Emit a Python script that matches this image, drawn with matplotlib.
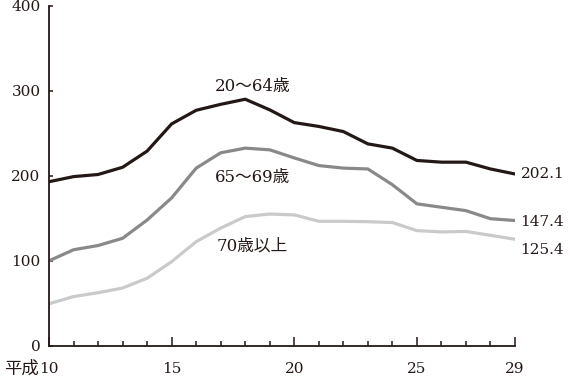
import matplotlib
matplotlib.use("Agg")
import matplotlib.pyplot as plt
from matplotlib.ticker import MultipleLocator

plt.rcParams['font.family'] = ['DejaVu Serif', 'Noto Sans CJK JP']

# 平成10年〜29年
years = list(range(10, 30))
age_20_64 = [193, 199, 201.5, 210, 229, 261, 277, 284, 290, 277.5, 262.5, 258, 252, 237.5, 232.5, 218, 216, 216, 208, 202.1]
age_65_69 = [100, 113, 118, 126.5, 148, 174, 209, 227, 232.5, 230.5, 221, 212, 209, 208, 189.5, 167, 163, 159, 149.5, 147.4]
age_70_up = [49.5, 58, 62.5, 68, 79.5, 99, 122.5, 138.5, 152, 155, 154, 146.5, 146.5, 146, 145, 135.5, 134, 134.5, 130, 125.4]

series_names = ['20～64歳', '65～69歳', '70歳以上']
end_labels = ['202.1', '147.4', '125.4']
xtick_vals = [10, 15, 20, 25, 29]

colors = ['#231815', '#898989', '#c9caca']
ink = '#231815'

fig = plt.figure(figsize=(5.7, 3.78), dpi=100)
ax = fig.add_axes([0.086, 0.085, 0.8175, 0.9])

for vals, c in zip([age_20_64, age_65_69, age_70_up], colors):
    ax.plot(years, vals, color=c, lw=2.3, solid_joinstyle='round')

ax.set_xlim(10, 29)
ax.set_ylim(0, 400)

for s in ['top', 'right']:
    ax.spines[s].set_visible(False)
for s in ['left', 'bottom']:
    ax.spines[s].set_linewidth(1.3)
    ax.spines[s].set_color(ink)

ax.set_xticks(xtick_vals)
ax.set_xticklabels([str(v) for v in xtick_vals])
ax.xaxis.set_minor_locator(MultipleLocator(1))
ax.set_yticks([0, 100, 200, 300, 400])
ax.tick_params(axis='x', which='major', direction='in', length=6.5, width=1.1,
               pad=11.5, labelsize=11, color=ink, labelcolor=ink)
ax.tick_params(axis='x', which='minor', direction='in', length=3.6, width=1.1,
               color=ink)
ax.tick_params(axis='y', direction='in', length=3, width=1.1, pad=6,
               labelsize=11, color=ink, labelcolor=ink)

# 平成 in front of the first tick label
ax.annotate('平成', xy=(10, 0), xycoords='data', xytext=(-7.5, -17),
            textcoords='offset points', ha='right', va='center', fontsize=12.5,
            color=ink)

# series labels
ax.text(18.3, 305, series_names[0], fontsize=12, ha='center', va='center', color=ink)
ax.text(18.3, 198, series_names[1], fontsize=12, ha='center', va='center', color=ink)
ax.text(18.3, 118, series_names[2], fontsize=12, ha='center', va='center', color=ink)

# end values
for vals, lab, dy in zip([age_20_64, age_65_69, age_70_up], end_labels, [0, -1, -8]):
    ax.annotate(lab, xy=(29, vals[-1]), xytext=(4, dy), textcoords='offset points',
                ha='left', va='center', fontsize=11, color=ink,
                annotation_clip=False)

fig.savefig('out.png', dpi=100)
